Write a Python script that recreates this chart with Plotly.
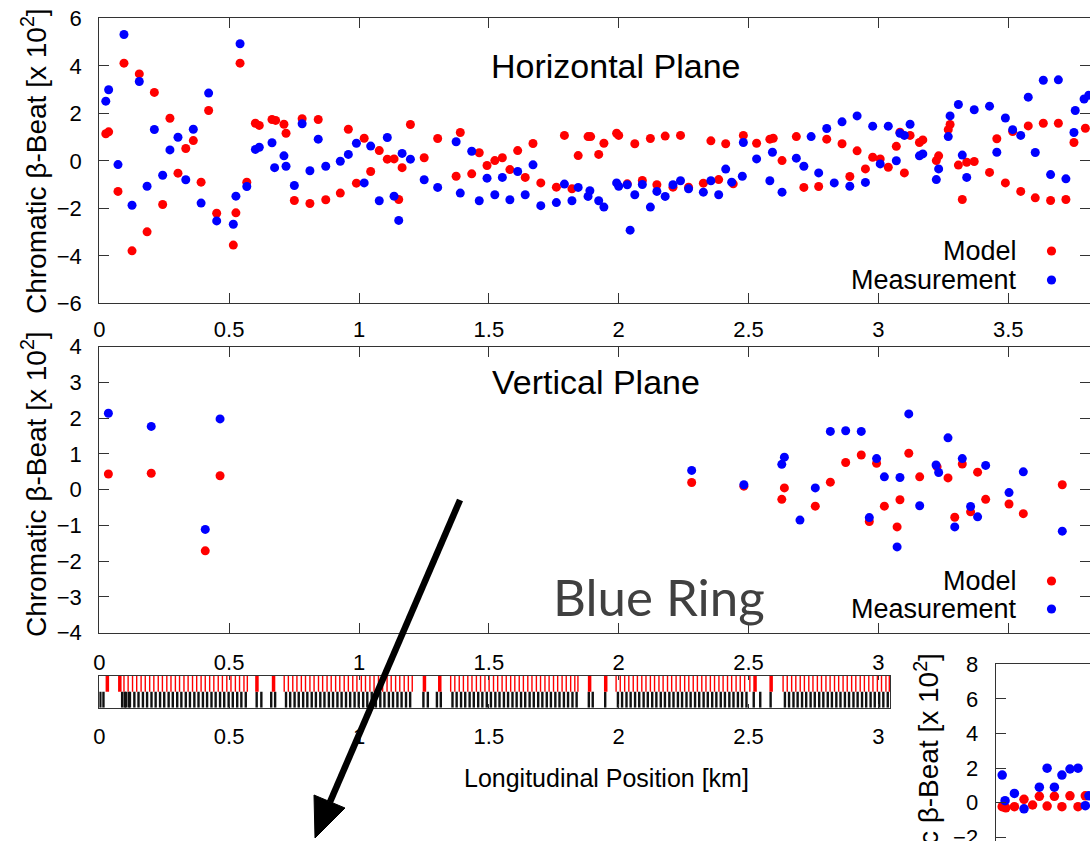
import plotly.graph_objects as go

# ---------------- data ----------------
# Horizontal plane (s in km, chromatic beta-beat x 10^2)
h_model_s = [0.025, 0.036, 0.072, 0.095, 0.126, 0.154, 0.184, 0.212, 0.244, 0.272, 0.303, 0.333, 0.362, 0.392,
             0.421, 0.452, 0.516, 0.526, 0.542, 0.568, 0.601, 0.616, 0.665, 0.679, 0.711, 0.719, 0.751, 0.781,
             0.811, 0.843, 0.872, 0.928, 0.959, 0.990, 1.020, 1.045, 1.078, 1.109, 1.135, 1.153, 1.166, 1.198,
             1.251, 1.303, 1.374, 1.390, 1.434, 1.463, 1.493, 1.523, 1.552, 1.581, 1.611, 1.640, 1.670, 1.700,
             1.760, 1.791, 1.820, 1.844, 1.882, 1.892, 1.923, 1.943, 1.992, 2.000, 2.033, 2.062, 2.091, 2.122,
             2.147, 2.179, 2.209, 2.238, 2.269, 2.326, 2.355, 2.385, 2.412, 2.441, 2.480, 2.531, 2.582, 2.595,
             2.629, 2.684, 2.713, 2.770, 2.801, 2.860, 2.890, 2.918, 2.950, 2.978, 3.007, 3.038, 3.069, 3.083,
             3.100, 3.122, 3.158, 3.171, 3.223, 3.232, 3.269, 3.276, 3.308, 3.323, 3.340, 3.369, 3.428, 3.456,
             3.489, 3.517, 3.548, 3.577, 3.604, 3.635, 3.663, 3.693, 3.722, 3.753, 3.797]
h_model_v = [1.14, 1.22, -1.29, 4.11, -3.79, 3.66, -2.99, 2.88, -1.84, 1.79, -0.52, 0.52, 0.85, -0.90,
             2.12, -2.21, -3.55, -2.19, 4.11, -0.90, 1.58, 1.49, 1.74, 1.70, 1.54, 1.16, -1.67, 1.77,
             -1.80, 1.74, -1.64, -1.36, 1.33, -0.94, 0.95, -0.45, 0.43, 0.07, 0.08, -1.63, -0.29, 1.53,
             0.13, 0.94, -0.65, 1.19, -0.55, 0.34, -0.20, 0.01, 0.13, -0.37, 0.43, -0.70, 0.73, -0.93,
             -1.11, 1.07, -1.18, 0.22, 1.02, 1.02, 0.27, 0.74, 1.16, 1.07, -0.97, 0.72, -0.83, 0.94,
             -1.01, 1.04, -1.11, 1.07, -1.11, -0.94, 0.84, -0.79, 0.72, -0.97, 1.07, 0.74, 0.91, 0.95,
             0.01, 1.02, -1.12, -1.08, 0.91, 0.72, -0.66, 0.42, -0.34, 0.15, 0.08, -0.27, 0.61, 1.20,
             -0.51, 1.07, 0.77, 0.88, 0.01, 0.21, 1.31, 1.53, -0.18, -1.63, -0.06, -0.03, -0.49, 0.93,
             -0.93, 1.23, -1.29, 1.47, -1.56, 1.58, -1.67, 1.58, -1.63, 0.77, 1.37]
h_meas_s = [0.025, 0.036, 0.072, 0.095, 0.126, 0.154, 0.184, 0.212, 0.244, 0.272, 0.303, 0.333, 0.362, 0.392,
            0.421, 0.452, 0.516, 0.526, 0.542, 0.568, 0.601, 0.616, 0.665, 0.675, 0.711, 0.719, 0.751, 0.781,
            0.811, 0.843, 0.872, 0.928, 0.959, 0.990, 1.020, 1.045, 1.078, 1.109, 1.135, 1.153, 1.166, 1.198,
            1.251, 1.303, 1.374, 1.390, 1.434, 1.463, 1.493, 1.523, 1.552, 1.581, 1.611, 1.640, 1.670, 1.700,
            1.760, 1.791, 1.820, 1.844, 1.882, 1.889, 1.923, 1.943, 1.992, 2.000, 2.033, 2.044, 2.062, 2.091,
            2.122, 2.147, 2.179, 2.209, 2.238, 2.269, 2.326, 2.355, 2.385, 2.412, 2.435, 2.476, 2.480, 2.531,
            2.582, 2.592, 2.629, 2.684, 2.713, 2.741, 2.770, 2.801, 2.830, 2.860, 2.890, 2.918, 2.950, 2.978,
            3.007, 3.038, 3.069, 3.083, 3.100, 3.122, 3.158, 3.171, 3.223, 3.232, 3.269, 3.276, 3.308, 3.323,
            3.340, 3.369, 3.428, 3.456, 3.489, 3.517, 3.548, 3.577, 3.604, 3.635, 3.663, 3.693, 3.722, 3.753,
            3.758, 3.792, 3.810]
h_meas_v = [2.51, 2.99, -0.16, 5.32, -1.87, 3.34, -1.07, 1.32, -0.61, 0.46, 0.99, -0.80, 1.33, -1.78,
            2.85, -2.53, -2.67, -1.49, 4.93, -1.08, 0.48, 0.57, 0.76, -0.29, 0.21, -0.23, -1.04, 1.56,
            -0.42, 0.91, -0.23, -0.02, 0.27, 0.74, -0.93, 0.62, -1.68, 0.98, -1.49, -2.51, 0.31, 0.07,
            -0.80, -1.12, 0.80, -1.36, 0.40, -1.68, -0.73, -1.43, -0.70, -1.64, -0.45, -1.43, -0.17, -1.89,
            -1.76, -0.98, -1.68, -1.12, -1.50, -1.26, -1.68, -1.95, -0.93, -1.07, -1.01, -2.92, -1.43, -1.00,
            -1.95, -1.29, -1.50, -1.01, -0.84, -1.18, -1.32, -0.84, -1.43, -0.35, -0.90, -0.65, 0.77, 0.08,
            -0.84, 0.36, -1.32, 0.11, -0.23, 1.02, -0.51, 1.36, -0.93, 1.64, -1.07, 1.89, -0.91, 1.46,
            -0.13, 1.46, 0.00, 1.16, 1.07, 1.54, 0.21, 0.29, -0.79, -0.34, 1.02, 1.89, 2.37, 0.24,
            -0.70, 2.15, 2.30, 0.36, 1.80, 1.31, 1.07, 2.68, 0.35, 3.39, -0.58, 3.41, -0.76, 1.19,
            2.12, 2.60, 2.76]

# Vertical plane
v_model_s = [0.035, 0.200, 0.408, 0.465, 2.281, 2.482, 2.628, 2.638, 2.757, 2.815, 2.874, 2.934, 2.965, 2.993,
             3.023, 3.072, 3.083, 3.117, 3.159, 3.226, 3.268, 3.294, 3.323, 3.355, 3.382, 3.413, 3.503, 3.558, 3.708]
v_model_v = [0.44, 0.46, -1.71, 0.39, 0.20, 0.10, -0.27, 0.05, -0.46, 0.21, 0.76, 0.97, -0.89, 0.74,
             -0.46, -1.04, -0.28, 1.02, 0.36, 0.64, 0.33, -0.77, 0.72, -0.62, 0.49, -0.27, -0.40, -0.67, 0.14]
v_meas_s = [0.035, 0.200, 0.408, 0.465, 2.281, 2.482, 2.628, 2.638, 2.698, 2.757, 2.815, 2.874, 2.934, 2.965,
            2.993, 3.023, 3.072, 3.083, 3.117, 3.159, 3.222, 3.232, 3.268, 3.294, 3.323, 3.355, 3.382, 3.413,
            3.503, 3.558, 3.708]
v_meas_v = [2.14, 1.77, -1.11, 1.98, 0.54, 0.14, 0.71, 0.91, -0.85, 0.05, 1.63, 1.65, 1.63, -0.78,
            0.87, 0.36, -1.60, 0.34, 2.12, -0.45, 0.69, 0.48, 1.45, -1.04, 0.87, -0.47, -0.76, 0.68,
            -0.08, 0.50, -1.16]

# Inset (second ring, partially visible)
i_model_s = [0.025, 0.039, 0.072, 0.109, 0.142, 0.168, 0.198, 0.226, 0.255, 0.286, 0.317, 0.345]
i_model_v = [-0.23, -0.29, -0.23, 0.20, -0.13, 0.37, -0.19, 0.37, -0.23, 0.40, -0.23, 0.40]
i_meas_s = [0.025, 0.036, 0.072, 0.109, 0.168, 0.198, 0.226, 0.255, 0.286, 0.317, 0.345, 0.359]
i_meas_v = [1.60, 0.12, 0.54, -0.35, 0.90, 2.00, 0.90, 1.60, 1.95, 2.00, -0.17, 0.40]

# Lattice strip element positions (km)
quad_thin_s = [0.095, 0.111, 0.128, 0.144, 0.161, 0.177, 0.194, 0.210, 0.227, 0.243, 0.260, 0.276, 0.293, 0.309,
               0.326, 0.342, 0.359, 0.375, 0.392, 0.408, 0.425, 0.441, 0.458, 0.474, 0.491, 0.507, 0.524, 0.540,
               0.557, 0.570,
               0.712, 0.728, 0.745, 0.761, 0.778, 0.794, 0.811, 0.827, 0.844, 0.860, 0.877, 0.893, 0.910, 0.926,
               0.943, 0.959, 0.976, 0.992, 1.009, 1.025, 1.042, 1.058, 1.075, 1.091, 1.108, 1.124, 1.141, 1.157,
               1.174, 1.190, 1.205,
               1.353, 1.369, 1.386, 1.402, 1.419, 1.435, 1.452, 1.468, 1.485, 1.501, 1.518, 1.534, 1.551, 1.567,
               1.584, 1.600, 1.617, 1.633, 1.650, 1.666, 1.683, 1.699, 1.716, 1.732, 1.749, 1.765, 1.782, 1.798,
               1.815, 1.831, 1.843,
               1.990, 2.006, 2.023, 2.039, 2.056, 2.072, 2.089, 2.105, 2.122, 2.138, 2.155, 2.171, 2.188, 2.204,
               2.221, 2.237, 2.254, 2.270, 2.287, 2.303, 2.320, 2.336, 2.353, 2.369, 2.386, 2.402, 2.419, 2.435,
               2.452, 2.468, 2.485, 2.505,
               2.633, 2.649, 2.666, 2.682, 2.699, 2.715, 2.732, 2.748, 2.765, 2.781, 2.798, 2.814, 2.831, 2.847,
               2.864, 2.880, 2.897, 2.913, 2.930, 2.946, 2.963, 2.979, 2.996, 3.012, 3.029, 3.042]
quad_thick_s = [0.031, 0.079, 0.607, 0.671, 1.252, 1.311, 1.888, 1.950, 2.525, 2.587]
other_s = [0.004, 0.016, 0.088, 0.098, 0.113,
           0.102, 0.118, 0.135, 0.151, 0.168, 0.184, 0.201, 0.217, 0.234, 0.250, 0.267, 0.283, 0.300, 0.316,
           0.333, 0.349, 0.366, 0.382, 0.399, 0.415, 0.432, 0.448, 0.465, 0.481, 0.498, 0.514, 0.531, 0.547, 0.564,
           0.606, 0.624, 0.662, 0.677,
           0.719, 0.735, 0.752, 0.768, 0.785, 0.801, 0.818, 0.834, 0.851, 0.867, 0.884, 0.900, 0.917, 0.933,
           0.950, 0.966, 0.983, 0.999, 1.016, 1.032, 1.049, 1.065, 1.082, 1.098, 1.115, 1.131, 1.148, 1.164,
           1.181, 1.197,
           1.248, 1.265, 1.300, 1.315,
           1.360, 1.376, 1.393, 1.409, 1.426, 1.442, 1.459, 1.475, 1.492, 1.508, 1.525, 1.541, 1.558, 1.574,
           1.591, 1.607, 1.624, 1.640, 1.657, 1.673, 1.690, 1.706, 1.723, 1.739, 1.756, 1.772, 1.789, 1.805,
           1.822, 1.838,
           1.885, 1.900, 1.948,
           1.997, 2.013, 2.030, 2.046, 2.063, 2.079, 2.096, 2.112, 2.129, 2.145, 2.162, 2.178, 2.195, 2.211,
           2.228, 2.244, 2.261, 2.277, 2.294, 2.310, 2.327, 2.343, 2.360, 2.376, 2.393, 2.409, 2.426, 2.442,
           2.459, 2.475, 2.492,
           2.520, 2.545, 2.585,
           2.640, 2.656, 2.673, 2.689, 2.706, 2.722, 2.739, 2.755, 2.772, 2.788, 2.805, 2.821, 2.838, 2.854,
           2.871, 2.887, 2.904, 2.920, 2.937, 2.953, 2.970, 2.986, 3.003, 3.019, 3.036]

s_ticks = [0, 0.5, 1, 1.5, 2, 2.5, 3, 3.5]
s_tick_text = ["0", "0.5", "1", "1.5", "2", "2.5", "3", "3.5"]

# ---------------- layout helpers ----------------
W, H = 1090, 841
def px(x):
    return x / W
def py(y):
    return 1 - y / H

RED = "#ff0000"
BLUE = "#0000ff"
LINE = "#333333"
FONT = "Liberation Sans, Arial, sans-serif"
YTITLE = "Chromatic \u03b2-Beat [x 10<sup>2</sup>]"

def bars(pos, lo, hi):
    xs, ys = [], []
    for p in pos:
        xs += [p, p, None]
        ys += [lo, hi, None]
    return xs, ys

fig = go.Figure()

# top panel
fig.add_trace(go.Scatter(x=h_model_s, y=h_model_v, mode="markers", xaxis="x", yaxis="y",
                         marker=dict(color=RED, size=9), showlegend=False))
fig.add_trace(go.Scatter(x=h_meas_s, y=h_meas_v, mode="markers", xaxis="x", yaxis="y",
                         marker=dict(color=BLUE, size=9), showlegend=False))
# middle panel
fig.add_trace(go.Scatter(x=v_model_s, y=v_model_v, mode="markers", xaxis="x2", yaxis="y2",
                         marker=dict(color=RED, size=9), showlegend=False))
fig.add_trace(go.Scatter(x=v_meas_s, y=v_meas_v, mode="markers", xaxis="x2", yaxis="y2",
                         marker=dict(color=BLUE, size=9), showlegend=False))
# lattice strip
bx, by = bars(other_s, 0, 1)
fig.add_trace(go.Scatter(x=bx, y=by, mode="lines", xaxis="x3", yaxis="y3",
                         line=dict(color="#111111", width=2.4), showlegend=False, hoverinfo="skip"))
rx, ry = bars(quad_thin_s, 1, 2)
fig.add_trace(go.Scatter(x=rx, y=ry, mode="lines", xaxis="x3", yaxis="y3",
                         line=dict(color=RED, width=1.4), showlegend=False, hoverinfo="skip"))
tx, ty = bars(quad_thick_s, 1, 2)
fig.add_trace(go.Scatter(x=tx, y=ty, mode="lines", xaxis="x3", yaxis="y3",
                         line=dict(color=RED, width=3.5), showlegend=False, hoverinfo="skip"))
fig.add_trace(go.Scatter(x=[0], y=[1], mode="markers", xaxis="x4", yaxis="y3",
                         marker=dict(size=1, color="rgba(0,0,0,0)"), showlegend=False, hoverinfo="skip"))
# inset
fig.add_trace(go.Scatter(x=i_model_s, y=i_model_v, mode="markers", xaxis="x5", yaxis="y5",
                         marker=dict(color=RED, size=9.5), showlegend=False))
fig.add_trace(go.Scatter(x=i_meas_s, y=i_meas_v, mode="markers", xaxis="x5", yaxis="y5",
                         marker=dict(color=BLUE, size=9.5), showlegend=False))

x_end = (W - 99.3) / 259.7
strip_end = (890 - 99.3) / 259.7
tickfont = dict(family=FONT, size=22, color="#000")

def xax(**kw):
    d = dict(showgrid=False, zeroline=False, showline=True, linecolor=LINE, linewidth=1.3,
             ticks="inside", ticklen=10, tickcolor=LINE, tickvals=s_ticks, ticktext=s_tick_text,
             tickfont=tickfont, automargin=False)
    d.update(kw)
    return d

def yax(**kw):
    d = dict(showgrid=False, zeroline=False, showline=True, linecolor=LINE, linewidth=1.3,
             ticks="inside", ticklen=10, tickcolor=LINE, mirror="ticks",
             tickfont=tickfont, ticklabelstandoff=12, automargin=False)
    d.update(kw)
    return d

fig.update_layout(
    template="none",
    width=W, height=H, margin=dict(l=0, r=0, t=0, b=0, pad=0), autosize=False,
    paper_bgcolor="white", plot_bgcolor="white", showlegend=False,
    xaxis=xax(domain=[px(99.3), 1], range=[0, x_end], anchor="y", mirror="ticks", showticklabels=False),
    yaxis=yax(domain=[py(303.3), py(18.3)], range=[-6, 6], tickvals=[-6, -4, -2, 0, 2, 4, 6], anchor="x"),
    xaxis2=xax(domain=[px(99.3), 1], range=[0, x_end], anchor="y2", side="top", mirror="ticks"),
    yaxis2=yax(domain=[py(632.7), py(346.7)], range=[-4, 4], tickvals=[-4, -3, -2, -1, 0, 1, 2, 3, 4],
               anchor="x2"),
    xaxis3=xax(domain=[px(99.3), px(890)], range=[0, strip_end], anchor="y3", side="bottom",
               mirror=True, ticklen=4, ticklabelstandoff=9),
    xaxis4=xax(domain=[px(99.3), px(890)], range=[0, strip_end], anchor="y3", side="top",
               overlaying="x3", ticklen=4, showline=False),
    yaxis3=dict(domain=[py(707.7), py(675.7)], range=[0, 2], anchor="x3", showgrid=False, zeroline=False,
                showline=True, linecolor=LINE, linewidth=1.3, mirror=True, showticklabels=False, ticks="",
                automargin=False),
    xaxis5=dict(domain=[px(995.7), 1], range=[0, (W - 995.7) / 259.7], anchor="y5", showgrid=False,
                zeroline=False, showline=True, linecolor=LINE, linewidth=1.3, mirror=True,
                showticklabels=False, ticks="", automargin=False),
    yaxis5=yax(domain=[0, py(664.3)], range=[-2.21, 8], tickvals=[-2, 0, 2, 4, 6, 8], anchor="x5",
               mirror=False, ticklabeloverflow="allow"),
)

ann = []
def text(x, y, s, size, xanchor="center", yanchor="middle", color="#000", angle=0, family=FONT, weight=None):
    f = dict(family=family, size=size, color=color)
    if weight:
        f["weight"] = weight
    ann.append(dict(x=px(x), y=py(y), xref="paper", yref="paper", text=s, showarrow=False,
                    xanchor=xanchor, yanchor=yanchor, textangle=angle, font=f))

text(489.3, 66, "Horizontal Plane", 34, xanchor="left")
text(490, 382, "Vertical Plane", 34, xanchor="left")
text(34, 161, YTITLE, 28, angle=-90)
text(34, 484, YTITLE, 28, angle=-90)
text(926.7, 651, YTITLE, 28, angle=-90, yanchor="top")
text(1019.3, 251, "Model", 27, xanchor="right")
text(1019.3, 280, "Measurement", 27, xanchor="right")
text(1019.3, 581, "Model", 27, xanchor="right")
text(1019.3, 609, "Measurement", 27, xanchor="right")
text(607, 778, "Longitudinal Position [km]", 25)
text(551, 596, "Blue Ring", 51, xanchor="left", color="#404040", family="Lato, Liberation Sans, sans-serif",
     weight=400)
fig.update_layout(annotations=ann)

shapes = []
for (x, y, c) in [(1051.5, 251, RED), (1051.5, 280, BLUE), (1051.5, 581, RED), (1051.5, 609, BLUE)]:
    shapes.append(dict(type="circle", xref="paper", yref="paper", xsizemode="pixel", ysizemode="pixel",
                       xanchor=px(x), yanchor=py(y), x0=-4.6, x1=4.6, y0=-4.6, y1=4.6,
                       fillcolor=c, line=dict(width=0)))
# arrow
shapes.append(dict(type="line", xref="paper", yref="paper", x0=px(460), y0=py(500), x1=px(330), y1=py(802),
                   line=dict(color="black", width=6.5)))
shapes.append(dict(type="path", xref="paper", yref="paper",
                   path=f"M {px(315)},{py(838)} L {px(345)},{py(808)} L {px(314)},{py(795)} Z",
                   fillcolor="black", line=dict(color="black", width=1)))
fig.update_layout(shapes=shapes)

fig.write_html("out.html")
